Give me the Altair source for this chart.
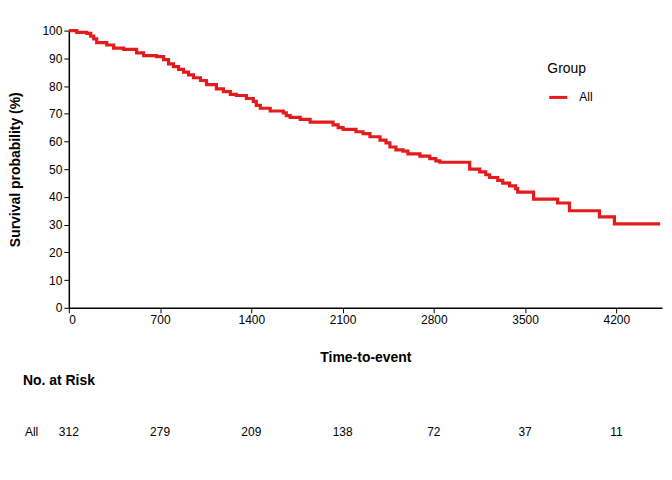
import altair as alt
import pandas as pd

# Kaplan-Meier curve (step-after)
times = [0, 61, 138, 168, 191, 214, 291, 344, 421, 520, 574, 673, 727, 765, 803,
         842, 880, 918, 956, 1010, 1056, 1132, 1186, 1239, 1285, 1362, 1415, 1438,
         1469, 1545, 1645, 1668, 1698, 1775, 1851, 2027, 2066, 2104, 2203, 2257,
         2310, 2387, 2433, 2463, 2509, 2563, 2601, 2693, 2769, 2815, 2846, 3075,
         3152, 3198, 3228, 3290, 3328, 3381, 3427, 3443, 3565, 3749, 3840, 4070,
         4185, 4536]
surv = [100, 99.4, 99, 98, 97, 95.7, 94.8, 93.7, 93.2, 92, 91, 90.6, 89.5, 88, 87,
        86, 85, 84, 83, 82, 80.5, 79, 78, 77, 76.6, 75.5, 74.5, 73,
        72, 71, 70.3, 69.3, 68.7, 68, 67, 66, 65, 64.4, 63.5, 62.8,
        61.7, 60.5, 59.5, 58, 57, 56.5, 55.5, 54.7, 53.8, 53, 52.5, 50,
        49, 48, 47, 46, 45, 44, 43, 41.7, 39.2, 37.8, 35, 32.8,
        30.3, 30.3]
group = "All"

risk_times = [0, 700, 1400, 2100, 2800, 3500, 4200]
risk_counts = [312, 279, 209, 138, 72, 37, 11]

x_ticks = [0, 700, 1400, 2100, 2800, 3500, 4200]
y_ticks = [0, 10, 20, 30, 40, 50, 60, 70, 80, 90, 100]

km = pd.DataFrame({"time": times, "surv": surv, "Group": group})
risk = pd.DataFrame({"time": risk_times, "n": [str(v) for v in risk_counts]})

FONT = "Liberation Sans"
RED = "#E41A1C"

xscale = alt.Scale(domain=[0, 4550], nice=False, zero=False)

line = alt.Chart(km).mark_line(interpolate="step-after", strokeWidth=3.2).encode(
    x=alt.X("time:Q", scale=xscale,
            axis=alt.Axis(title="Time-to-event", values=x_ticks, grid=False,
                          format="d", titlePadding=25)),
    y=alt.Y("surv:Q", scale=alt.Scale(domain=[0, 100], nice=False),
            axis=alt.Axis(title="Survival probability (%)", values=y_ticks,
                          grid=False, format="d", titlePadding=19)),
    color=alt.Color("Group:N", scale=alt.Scale(domain=[group], range=[RED]),
                    legend=alt.Legend(orient="none", legendX=480, legendY=32,
                                      symbolType="stroke", symbolStrokeWidth=3,
                                      symbolSize=330,
                                      titleFontWeight="normal", titleFontSize=14,
                                      labelFontSize=12, titlePadding=10,
                                      labelOffset=10)),
)

risk_text = alt.Chart(risk).mark_text(fontSize=12, font=FONT, baseline="middle",
                                      align="center").encode(
    x=alt.X("time:Q", scale=xscale),
    y=alt.value(403),
    text="n:N",
)

risk_title = alt.Chart(pd.DataFrame({"t": ["No. at Risk"]})).mark_text(
    fontSize=14, font=FONT, fontWeight="bold", align="left", baseline="middle"
).encode(x=alt.value(-46), y=alt.value(351), text="t:N")

risk_label = alt.Chart(pd.DataFrame({"t": [group]})).mark_text(
    fontSize=12, font=FONT, align="left", baseline="middle"
).encode(x=alt.value(-44), y=alt.value(403), text="t:N")

chart = alt.layer(line, risk_text, risk_title, risk_label).properties(
    width=595, height=278,
    autosize=alt.AutoSizeParams(type="none"),
    padding={"left": 61, "top": 22, "right": 2, "bottom": 150},
).configure_view(stroke=None).configure_axis(
    labelFont=FONT, titleFont=FONT, labelFontSize=12, titleFontSize=14,
    titleFontWeight="bold", labelColor="black", titleColor="black",
    domainColor="black", tickColor="black", tickSize=5, domainWidth=1.5,
    labelPadding=2,
).configure_legend(labelFont=FONT, titleFont=FONT, labelColor="black",
                   titleColor="black")

chart.save("out.html", embed_options={"renderer": "svg", "actions": False})
